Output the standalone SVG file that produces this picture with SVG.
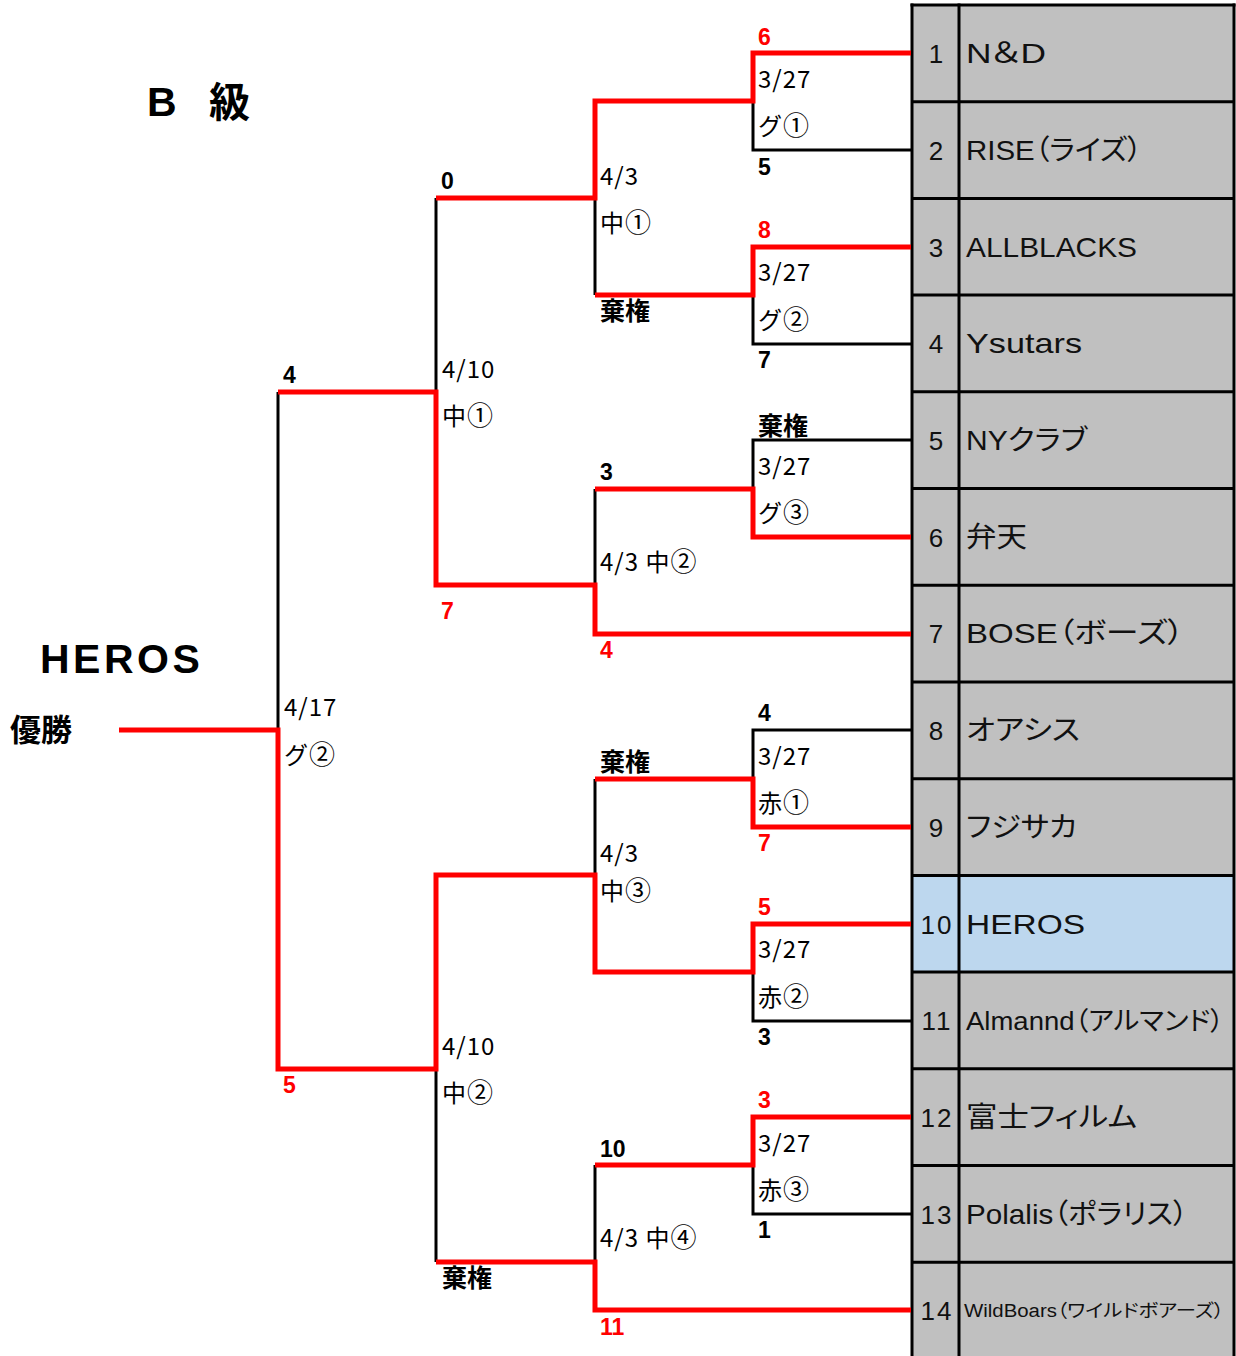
<svg xmlns="http://www.w3.org/2000/svg" width="1236" height="1356" viewBox="0 0 1236 1356">
<style>
.r{fill:none;stroke:#ff0000;stroke-width:5;stroke-linejoin:miter}
.k{fill:none;stroke:#000;stroke-width:3}
.lbl{font-family:"Noto Sans CJK JP",sans-serif;font-size:24px;fill:#000;letter-spacing:1px}
.c{font-size:26px;letter-spacing:0}
.sc{font-family:"Liberation Sans","Noto Sans CJK JP",sans-serif;font-weight:bold;font-size:23px}
.red{fill:#ff0000}
.blk{fill:#000}
.kk{font-family:"Noto Sans CJK JP",sans-serif;font-weight:bold;font-size:25px;fill:#000}
.num{font-family:"Liberation Sans",sans-serif;font-size:26px;text-anchor:middle;letter-spacing:2px;fill:#111}
.name{font-family:"Liberation Sans","Noto Sans CJK JP",sans-serif;font-size:28px;fill:#111;font-feature-settings:"palt" 1}
.cell{fill:#c0c0c0}
.hl{fill:#bdd7ee}
.grid{stroke:#000;stroke-width:3}
</style>

<g id="title">
  <text x="147" y="116" font-family="Liberation Sans,Noto Sans CJK JP,sans-serif" font-weight="bold" font-size="41">B</text>
  <text x="209" y="117" font-family="Noto Sans CJK JP,sans-serif" font-weight="bold" font-size="41">級</text>
</g>

<g id="champion">
  <text x="40" y="673" font-family="Liberation Sans,sans-serif" font-weight="bold" font-size="41" letter-spacing="3.5">HEROS</text>
  <text x="10" y="741" font-family="Noto Sans CJK JP,sans-serif" font-weight="bold" font-size="31">優勝</text>
</g>

<g id="table">
  <g id="team-1"><rect class="cell" x="912" y="5" width="322" height="96.7"/><text class="num" x="937" y="63">1</text><text class="name" x="966" y="63" textLength="80" lengthAdjust="spacingAndGlyphs">N＆D</text></g>
  <g id="team-2"><rect class="cell" x="912" y="101.7" width="322" height="96.7"/><text class="num" x="937" y="160">2</text><text class="name" x="966" y="160" textLength="176" lengthAdjust="spacingAndGlyphs">RISE（ライズ）</text></g>
  <g id="team-3"><rect class="cell" x="912" y="198.4" width="322" height="96.7"/><text class="num" x="937" y="257">3</text><text class="name" x="966" y="257" textLength="171" lengthAdjust="spacingAndGlyphs">ALLBLACKS</text></g>
  <g id="team-4"><rect class="cell" x="912" y="295.1" width="322" height="96.7"/><text class="num" x="937" y="353">4</text><text class="name" x="966" y="353" textLength="116" lengthAdjust="spacingAndGlyphs">Ysutars</text></g>
  <g id="team-5"><rect class="cell" x="912" y="391.8" width="322" height="96.7"/><text class="num" x="937" y="450">5</text><text class="name" x="966" y="450" textLength="121" lengthAdjust="spacingAndGlyphs">NYクラブ</text></g>
  <g id="team-6"><rect class="cell" x="912" y="488.6" width="322" height="96.7"/><text class="num" x="937" y="547">6</text><text class="name" x="966" y="547" textLength="61" lengthAdjust="spacingAndGlyphs">弁天</text></g>
  <g id="team-7"><rect class="cell" x="912" y="585.3" width="322" height="96.7"/><text class="num" x="937" y="643">7</text><text class="name" x="966" y="643" textLength="218" lengthAdjust="spacingAndGlyphs">BOSE（ボーズ）</text></g>
  <g id="team-8"><rect class="cell" x="912" y="682" width="322" height="96.7"/><text class="num" x="937" y="740">8</text><text class="name" x="966" y="740" textLength="114" lengthAdjust="spacingAndGlyphs">オアシス</text></g>
  <g id="team-9"><rect class="cell" x="912" y="778.7" width="322" height="96.7"/><text class="num" x="937" y="837">9</text><text class="name" x="966" y="837" textLength="111" lengthAdjust="spacingAndGlyphs">フジサカ</text></g>
  <g id="team-10"><rect class="hl" x="912" y="875.4" width="322" height="96.7"/><text class="num" x="937" y="934">10</text><text class="name" x="966" y="934" textLength="119" lengthAdjust="spacingAndGlyphs">HEROS</text></g>
  <g id="team-11"><rect class="cell" x="912" y="972.1" width="322" height="96.7"/><text class="num" x="937" y="1030">11</text><text class="name" x="966" y="1030" style="font-size:26px" textLength="258" lengthAdjust="spacingAndGlyphs">Almannd（アルマンド）</text></g>
  <g id="team-12"><rect class="cell" x="912" y="1068.8" width="322" height="96.7"/><text class="num" x="937" y="1127">12</text><text class="name" x="966" y="1127" textLength="171" lengthAdjust="spacingAndGlyphs">富士フィルム</text></g>
  <g id="team-13"><rect class="cell" x="912" y="1165.5" width="322" height="96.7"/><text class="num" x="937" y="1224">13</text><text class="name" x="966" y="1224" textLength="222" lengthAdjust="spacingAndGlyphs">Polalis（ポラリス）</text></g>
  <g id="team-14"><rect class="cell" x="912" y="1262.2" width="322" height="93.8"/><text class="num" x="937" y="1320">14</text><text class="name" x="964" y="1317" style="font-size:18px" textLength="260" lengthAdjust="spacingAndGlyphs">WildBoars（ワイルドボアーズ）</text></g>
  <g id="grid">
    <line class="grid" x1="912" y1="3.5" x2="912" y2="1356"/>
    <line class="grid" x1="959" y1="3.5" x2="959" y2="1356"/>
    <line class="grid" x1="1234" y1="3.5" x2="1234" y2="1356"/>
    <line class="grid" x1="910.5" y1="5" x2="1235.5" y2="5"/>
    <line class="grid" x1="912" y1="101.7" x2="1234" y2="101.7"/>
    <line class="grid" x1="912" y1="198.4" x2="1234" y2="198.4"/>
    <line class="grid" x1="912" y1="295.1" x2="1234" y2="295.1"/>
    <line class="grid" x1="912" y1="391.8" x2="1234" y2="391.8"/>
    <line class="grid" x1="912" y1="488.6" x2="1234" y2="488.6"/>
    <line class="grid" x1="912" y1="585.3" x2="1234" y2="585.3"/>
    <line class="grid" x1="912" y1="682" x2="1234" y2="682"/>
    <line class="grid" x1="912" y1="778.7" x2="1234" y2="778.7"/>
    <line class="grid" x1="912" y1="875.4" x2="1234" y2="875.4"/>
    <line class="grid" x1="912" y1="972.1" x2="1234" y2="972.1"/>
    <line class="grid" x1="912" y1="1068.8" x2="1234" y2="1068.8"/>
    <line class="grid" x1="912" y1="1165.5" x2="1234" y2="1165.5"/>
    <line class="grid" x1="912" y1="1262.2" x2="1234" y2="1262.2"/>
  </g>
</g>

<g id="connectors">
  <path class="k" d="M911,150 H753 V101"/>
  <path class="k" d="M911,344 H753 V295"/>
  <path class="k" d="M911,440 H753 V489"/>
  <path class="k" d="M911,730 H753 V779"/>
  <path class="k" d="M911,1021 H753 V972"/>
  <path class="k" d="M911,1214 H753 V1165"/>
  <path class="k" d="M595,198 V295"/>
  <path class="k" d="M595,489 V585"/>
  <path class="k" d="M595,779 V875"/>
  <path class="k" d="M595,1165 V1262"/>
  <path class="k" d="M436,198 V392"/>
  <path class="k" d="M436,1069 V1262"/>
  <path class="k" d="M278,392 V730"/>

  <path class="r" d="M911,53 H753 V101 H595 V198 H436"/>
  <path class="r" d="M911,247 H753 V295 H595"/>
  <path class="r" d="M911,537 H753 V489 H595"/>
  <path class="r" d="M911,634 H595 V585 H436 V392 H278"/>
  <path class="r" d="M911,827 H753 V779 H595"/>
  <path class="r" d="M911,924 H753 V972 H595 V875 H436 V1069 H278 V730 H119"/>
  <path class="r" d="M911,1117 H753 V1165 H595"/>
  <path class="r" d="M911,1310 H595 V1262 H436"/>
</g>

<g id="labels-round1">
  <text class="sc red" x="758" y="45">6</text>
  <text class="lbl" x="758" y="88">3/27</text>
  <text class="lbl" x="758" y="135">グ<tspan class="c">①</tspan></text>
  <text class="sc blk" x="758" y="175">5</text>

  <text class="sc red" x="758" y="238">8</text>
  <text class="lbl" x="758" y="281">3/27</text>
  <text class="lbl" x="758" y="329">グ<tspan class="c">②</tspan></text>
  <text class="sc blk" x="758" y="368">7</text>

  <text class="kk" x="758" y="435">棄権</text>
  <text class="lbl" x="758" y="475">3/27</text>
  <text class="lbl" x="758" y="522">グ<tspan class="c">③</tspan></text>

  <text class="sc blk" x="758" y="721">4</text>
  <text class="lbl" x="758" y="765">3/27</text>
  <text class="lbl" x="758" y="812">赤<tspan class="c">①</tspan></text>
  <text class="sc red" x="758" y="851">7</text>

  <text class="sc red" x="758" y="915">5</text>
  <text class="lbl" x="758" y="958">3/27</text>
  <text class="lbl" x="758" y="1006">赤<tspan class="c">②</tspan></text>
  <text class="sc blk" x="758" y="1045">3</text>

  <text class="sc red" x="758" y="1108">3</text>
  <text class="lbl" x="758" y="1152">3/27</text>
  <text class="lbl" x="758" y="1199">赤<tspan class="c">③</tspan></text>
  <text class="sc blk" x="758" y="1238">1</text>
</g>

<g id="labels-round2">
  <text class="lbl" x="600" y="185">4/3</text>
  <text class="lbl" x="600" y="232">中<tspan class="c">①</tspan></text>
  <text class="kk" x="600" y="320">棄権</text>

  <text class="sc blk" x="600" y="480">3</text>
  <text class="lbl" x="600" y="571">4/3 中<tspan class="c">②</tspan></text>
  <text class="sc red" x="600" y="658">4</text>

  <text class="kk" x="600" y="771">棄権</text>
  <text class="lbl" x="600" y="862">4/3</text>
  <text class="lbl" x="600" y="900">中<tspan class="c">③</tspan></text>

  <text class="sc blk" x="600" y="1157">10</text>
  <text class="lbl" x="600" y="1247">4/3 中<tspan class="c">④</tspan></text>
  <text class="sc red" x="600" y="1335">11</text>
</g>

<g id="labels-round3">
  <text class="sc blk" x="441" y="189">0</text>
  <text class="lbl" x="442" y="378">4/10</text>
  <text class="lbl" x="442" y="425">中<tspan class="c">①</tspan></text>
  <text class="sc red" x="441" y="619">7</text>

  <text class="lbl" x="442" y="1055">4/10</text>
  <text class="lbl" x="442" y="1102">中<tspan class="c">②</tspan></text>
  <text class="kk" x="442" y="1287">棄権</text>
</g>

<g id="labels-final">
  <text class="sc blk" x="283" y="383">4</text>
  <text class="lbl" x="284" y="716">4/17</text>
  <text class="lbl" x="284" y="764">グ<tspan class="c">②</tspan></text>
  <text class="sc red" x="283" y="1093">5</text>
</g>
</svg>
